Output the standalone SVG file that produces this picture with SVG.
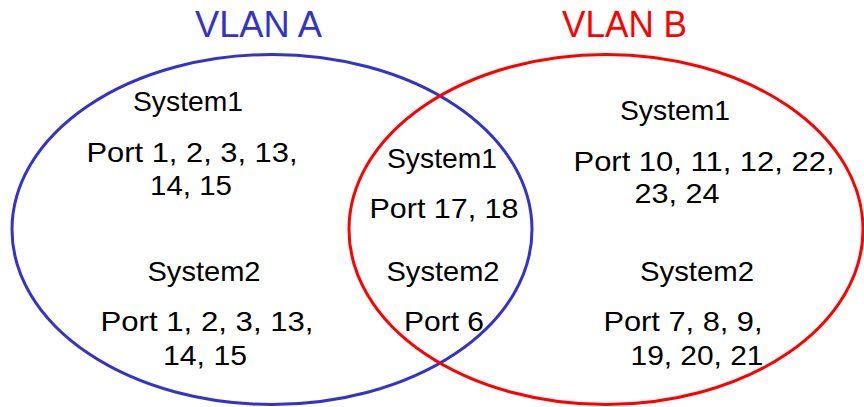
<svg xmlns="http://www.w3.org/2000/svg" width="864" height="407" viewBox="0 0 864 407">
<style>
.t{font-family:"Liberation Sans",Arial,sans-serif;font-size:28px;fill:#000;text-anchor:middle}
.h{font-family:"Liberation Sans",Arial,sans-serif;font-size:36px;text-anchor:middle}
.e{fill:none;stroke-width:3}
</style>
<rect width="864" height="407" fill="#fff"/>
<g id="vlanA">
<ellipse class="e" cx="272" cy="229.5" rx="260" ry="175" stroke="#3333CC"/>
<text class="h" x="258.5" y="37" fill="#3333CC" textLength="127" lengthAdjust="spacingAndGlyphs">VLAN A</text>
</g>
<g id="vlanB">
<ellipse class="e" cx="606" cy="229.5" rx="257" ry="175" stroke="#FF0000"/>
<text class="h" x="624.5" y="37" fill="#FF0000" textLength="125" lengthAdjust="spacingAndGlyphs">VLAN B</text>
</g>
<g id="a-sys1">
<text class="t" x="188" y="111" textLength="110" lengthAdjust="spacingAndGlyphs">System1</text>
<text class="t" x="192" y="162" textLength="211" lengthAdjust="spacingAndGlyphs">Port 1, 2, 3, 13,</text>
<text class="t" x="191" y="195" textLength="82" lengthAdjust="spacingAndGlyphs">14, 15</text>
</g>
<g id="a-sys2">
<text class="t" x="204" y="281" textLength="113" lengthAdjust="spacingAndGlyphs">System2</text>
<text class="t" x="207" y="331" textLength="213" lengthAdjust="spacingAndGlyphs">Port 1, 2, 3, 13,</text>
<text class="t" x="205" y="365" textLength="84" lengthAdjust="spacingAndGlyphs">14, 15</text>
</g>
<g id="ab-sys1">
<text class="t" x="442" y="168" textLength="110" lengthAdjust="spacingAndGlyphs">System1</text>
<text class="t" x="444" y="218" textLength="149" lengthAdjust="spacingAndGlyphs">Port 17, 18</text>
</g>
<g id="ab-sys2">
<text class="t" x="443" y="281" textLength="113" lengthAdjust="spacingAndGlyphs">System2</text>
<text class="t" x="444" y="331" textLength="80" lengthAdjust="spacingAndGlyphs">Port 6</text>
</g>
<g id="b-sys1">
<text class="t" x="675" y="120" textLength="110" lengthAdjust="spacingAndGlyphs">System1</text>
<text class="t" x="704" y="171" textLength="261" lengthAdjust="spacingAndGlyphs">Port 10, 11, 12, 22,</text>
<text class="t" x="677" y="203" textLength="85" lengthAdjust="spacingAndGlyphs">23, 24</text>
</g>
<g id="b-sys2">
<text class="t" x="697" y="281" textLength="114" lengthAdjust="spacingAndGlyphs">System2</text>
<text class="t" x="683" y="331" textLength="159" lengthAdjust="spacingAndGlyphs">Port 7, 8, 9,</text>
<text class="t" x="697" y="365" textLength="133" lengthAdjust="spacingAndGlyphs">19, 20, 21</text>
</g>
<g id="connectors"></g>
</svg>
